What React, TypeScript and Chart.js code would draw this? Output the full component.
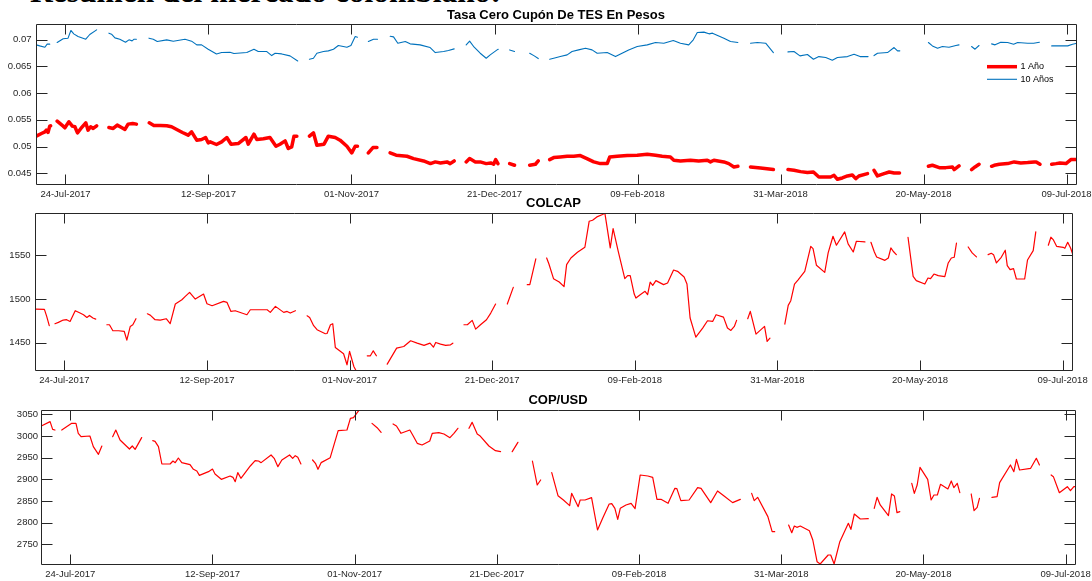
import React, { useEffect, useRef } from "react";
import { Chart, registerables } from "chart.js";
Chart.register(...registerables);

// x values are day offsets from 24-Jul-2017
const xTickDays = [0, 50, 100, 150, 200, 250, 300, 350];
const xTickLabels = ["24-Jul-2017", "12-Sep-2017", "01-Nov-2017", "21-Dec-2017", "09-Feb-2018", "31-Mar-2018", "20-May-2018", "09-Jul-2018"];
const xMin = -10.3;
const xMax = 353.3;

const tesTicks = [0.045, 0.05, 0.055, 0.06, 0.065, 0.07];
const colcapTicks = [1450, 1500, 1550];
const copTicks = [2750, 2800, 2850, 2900, 2950, 3000, 3050];

// TES 10 años
const tes10Days = [-10.2, -9.0, -7.2, -6.4, -5.5, -4.2, -2.9, -0.8, 0.9, 1.9, 2.9, 4.4, 7.1, 8.5, 10.9, 13, 15.2, 16.1, 17.3, 19.0, 21.0, 22.2, 23.3, 24.0, 24.8, 27, 29.2, 30.7, 32.1, 35.4, 37.7, 41.8, 44.1, 45.9, 47.6, 49.9, 52.8, 54.6, 57.5, 58.9, 63.4, 65.9, 67.4, 70.4, 72.1, 73.3, 75.6, 78.5, 81.2, 83, 85.3, 86.7, 87.9, 90.2, 91.9, 93.7, 95.4, 98.4, 99.8, 101.3, 102.1, 104, 105.9, 107.7, 109.1, 111, 113.5, 114.7, 116.2, 118.8, 120.5, 124.0, 127.5, 129.3, 132.2, 133.9, 135.9, 138, 140.1, 141.3, 142.9, 145.0, 147.1, 148.5, 150.9, 151.3, 153, 155.3, 157.0, 160, 162.3, 163.9, 165.3, 167, 169.3, 170.7, 173.0, 175.4, 177.1, 179.4, 181.8, 184.1, 185.9, 189.4, 192.3, 194.6, 196.9, 199.9, 203.4, 206.3, 209.2, 212.5, 215.0, 217.9, 219.5, 220.9, 223.2, 225.0, 226.2, 230.2, 232.5, 235.1, 237, 239.5, 241.9, 244.8, 247.5, 250, 252.6, 254.7, 256.8, 259.4, 261.5, 263.4, 265.8, 268.1, 269.9, 273.4, 275.7, 277.8, 280.6, 281.6, 282.7, 283.9, 287.4, 289.7, 290.9, 291.7, 296, 301.7, 303.1, 304.9, 306.6, 308.9, 311.3, 312.4, 314.5, 316.8, 318.0, 319.4, 321.5, 323.8, 325.0, 327.0, 329.4, 331.5, 332.9, 336.4, 338.5, 340.5, 342.5, 344.8, 348.1, 350.4, 352.1, 353.3];
const tes10Vals = [0.0690, 0.06881, 0.06856, 0.06913, 0.06913, null, 0.06944, 0.07013, 0.07025, 0.07169, 0.07106, 0.07056, 0.07006, 0.07094, 0.07181, null, 0.07119, 0.07100, 0.07031, 0.07006, 0.0695, 0.06994, 0.06975, 0.07006, 0.07006, null, 0.07025, 0.07006, 0.06963, 0.06994, 0.06969, 0.07006, 0.06969, 0.069, 0.069, 0.06819, 0.06731, 0.06756, 0.06763, 0.06738, 0.06756, 0.06819, 0.06775, 0.06775, 0.067, 0.06744, 0.06731, 0.06694, 0.066, null, 0.06631, 0.0665, 0.06744, 0.06775, 0.06788, 0.06819, 0.06888, 0.06856, 0.06888, 0.07056, 0.07044, null, 0.06963, 0.07006, 0.07006, null, 0.0706, 0.0705, 0.0693, 0.06963, 0.06919, 0.069, 0.0685, 0.06756, 0.06775, 0.06794, 0.06825, null, 0.069, 0.06969, 0.06856, 0.06744, 0.0665, 0.06713, 0.06806, 0.06819, null, 0.06806, 0.06775, null, 0.06744, 0.06694, 0.06644, null, 0.06631, 0.0665, 0.06681, 0.06713, 0.06775, 0.06806, 0.06838, 0.06806, 0.06744, 0.06756, 0.06681, 0.06744, 0.06806, 0.06869, 0.069, 0.06944, 0.06931, 0.06981, 0.06931, 0.069, 0.06994, 0.07131, 0.07138, 0.07106, 0.07119, 0.07025, 0.06963, 0.06944, null, 0.06931, 0.06944, 0.06931, 0.06756, null, 0.06769, 0.06775, 0.06694, 0.06719, 0.06631, 0.06681, 0.06663, 0.06613, 0.06663, 0.06681, 0.06725, 0.06681, 0.06681, null, 0.067, 0.06744, 0.06756, 0.0685, 0.06788, 0.06788, null, 0.06944, 0.06881, 0.06838, 0.06869, 0.06856, 0.06888, 0.069, null, 0.06869, 0.06819, 0.06888, null, 0.06919, 0.069, 0.0695, 0.06944, 0.06913, 0.06944, 0.06931, 0.06931, 0.0695, null, 0.06881, 0.06881, 0.06881, 0.06913, 0.06925];

// TES 1 año
const tes1Days = [-10.2, -8.4, -7.2, -6.7, -6.1, -5.5, -5.2, -4, -2.9, -0.8, -0.2, 1.2, 2.4, 3.3, 4.2, 5.4, 7.1, 7.9, 8.8, 9.7, 10.9, 13, 15.2, 16.7, 18.1, 19.6, 20.8, 21.9, 23.5, 24.8, 27, 29.3, 30.9, 33.2, 35.4, 37.1, 38.9, 40.9, 42.9, 44.1, 45.9, 47.6, 49.0, 49.9, 50.6, 52.8, 54.6, 56.4, 57.9, 60.4, 63.1, 63.9, 65.9, 66.9, 69.2, 71.5, 73.6, 75.0, 76.8, 77.9, 79.1, 79.9, 80.9, 83, 85.3, 86.7, 87.9, 90.4, 91.9, 94.3, 96.0, 98.4, 100.1, 101.3, 102.1, 104, 105.9, 107.5, 108.9, 111, 113.5, 115.6, 119.4, 121.7, 125.2, 127.6, 129.3, 131.1, 133.4, 134.5, 135.9, 138, 140.1, 141.3, 143.3, 145.0, 147.1, 148.7, 149.7, 150.4, 151.2, 153, 155.3, 157.0, 160, 162.3, 164.3, 165.3, 167, 169.3, 170.7, 173.0, 175.4, 177.7, 180.0, 182.3, 184.7, 187.0, 189.4, 190.3, 192.9, 196.4, 199.9, 203.4, 206.3, 208.6, 211.5, 212.7, 215.0, 218.5, 221.4, 224.4, 225.5, 226.7, 230.2, 231.9, 233.7, 235.1, 237, 239.5, 243.0, 247.5, 250, 252.6, 254.7, 257.0, 259.4, 261.5, 263.4, 265.8, 267.5, 268.7, 269.9, 271.6, 273.4, 275.1, 276.3, 277.4, 280.4, 281.6, 282.7, 283.9, 286.2, 288.0, 289.7, 291.6, 296, 301.7, 303.1, 305.5, 307.8, 310.1, 310.7, 312.4, 314.5, 316.8, 318.0, 319.4, 321.5, 323.8, 324.7, 326.5, 329.4, 331.7, 334.0, 336.4, 338.7, 339.4, 340.7, 342.5, 344.8, 346.3, 347.7, 349.8, 351.5, 353.3];
const tes1Vals = [0.05194, 0.05244, 0.05275, 0.05306, 0.05263, 0.05381, 0.05388, null, 0.05475, 0.05381, 0.0535, 0.05463, 0.05381, 0.05369, 0.05256, 0.05338, 0.05444, 0.05306, 0.05369, 0.05338, 0.05388, null, 0.05356, 0.05338, 0.054, 0.05356, 0.05319, 0.05419, 0.05431, 0.05419, null, 0.05444, 0.05394, 0.05394, 0.05388, 0.05369, 0.05319, 0.05263, 0.05213, 0.05275, 0.05119, 0.05131, 0.05169, 0.05069, 0.05088, 0.05038, 0.05088, 0.05169, 0.05044, 0.05056, 0.05169, 0.05044, 0.05231, 0.05131, 0.05144, 0.05169, 0.05006, 0.05044, 0.05106, 0.04963, 0.04994, 0.05194, 0.05194, null, 0.05194, 0.05256, 0.05025, 0.05044, 0.05194, 0.05169, 0.05119, 0.05006, 0.04881, 0.05006, 0.05006, null, 0.04881, 0.04981, 0.04981, null, 0.04881, 0.04838, 0.04819, 0.04775, 0.04731, 0.04681, 0.04713, 0.04694, 0.04713, 0.04681, 0.04731, null, 0.04713, 0.04775, 0.04713, 0.04713, 0.04681, 0.04694, 0.04669, 0.04756, 0.04681, null, 0.04681, 0.0465, null, 0.0465, 0.04669, 0.04731, null, 0.04756, 0.04794, 0.04806, 0.04819, 0.04819, 0.04831, 0.04775, 0.04713, 0.04681, 0.04681, 0.04806, 0.04819, 0.04831, 0.04838, 0.04856, 0.04838, 0.04819, 0.04806, 0.04744, 0.04731, 0.04744, 0.04731, 0.04744, 0.04713, 0.04744, 0.04713, 0.04681, 0.04619, 0.04631, null, 0.04619, 0.046, 0.04569, null, 0.04569, 0.04556, 0.04531, 0.04513, 0.04525, 0.04431, 0.04431, 0.04431, 0.04463, 0.04388, 0.04413, 0.0445, 0.04469, 0.044, 0.0445, 0.04494, null, 0.04556, 0.0445, 0.04494, 0.04525, 0.04506, 0.04506, null, 0.04631, 0.0465, 0.04606, 0.04606, 0.04619, 0.04569, 0.04638, null, 0.04569, 0.04619, 0.04669, null, 0.04631, 0.0465, 0.04669, 0.04681, 0.04713, 0.04694, 0.047, 0.04713, 0.04713, 0.04669, null, 0.04669, 0.04681, 0.04694, 0.04681, 0.04756, 0.04756];

// COLCAP
const colcapDays = [-10.0, -7.0, -6.2, -5.3, -4.3, -3.3, -2.1, -0.4, 0.8, 2.0, 3.8, 5.5, 6.7, 7.9, 8.8, 10.0, 11.0, 13, 14.9, 15.8, 17.0, 19.0, 21.0, 21.9, 23.1, 24.0, 25.1, 27, 29.1, 30.1, 31.8, 33.6, 35.7, 37.1, 38.9, 41.2, 42.4, 43.9, 45.9, 48.8, 50.0, 51.8, 55.8, 57.0, 58.4, 59.9, 64.0, 65.2, 67.5, 71.1, 72.2, 74.0, 76.9, 78.1, 79.2, 81.0, 83, 85.1, 86.0, 87.4, 88.6, 91.5, 92.1, 93.3, 94.1, 95.0, 97.9, 99.1, 100.0, 101.5, 102.4, 104, 106.2, 107.3, 108.3, 109.4, 111, 113.2, 116.5, 119.0, 121.4, 123.7, 126.1, 128.2, 129.4, 130.2, 131.9, 133.7, 135.4, 136.2, 138, 140.1, 141.3, 143.0, 144.2, 145.9, 148.0, 149.5, 151.2, 153, 155.3, 157.4, 160, 162.3, 163.2, 165.3, 167, 169.1, 169.9, 171.5, 173.5, 175.2, 176.1, 177.6, 179.9, 182.5, 184.0, 185.2, 186.7, 188.7, 189.5, 191.4, 192.4, 194.2, 196.5, 197.5, 198.4, 199.8, 200.4, 201.9, 203.6, 204.5, 205.4, 206.3, 207.4, 210.1, 211.5, 213.6, 215.0, 217.3, 218.3, 219.4, 221.4, 223.8, 225.5, 227.3, 228.5, 231.1, 232.5, 233.7, 234.9, 235.7, 237.5, 239.6, 240.5, 242.5, 245.5, 246.4, 247.4, 250, 252.6, 253.8, 254.7, 256.0, 257.2, 259.6, 261.7, 262.5, 263.7, 266.6, 267.8, 269.5, 270.7, 273.6, 274.8, 276.6, 277.7, 280.7, 281.8, 282.8, 284.0, 284.8, 287.7, 288.9, 289.8, 290.6, 291.7, 294, 295.8, 297.6, 298.7, 301.7, 302.8, 303.7, 304.9, 306.4, 308.7, 309.9, 311.0, 312.0, 312.8, 315, 316.9, 318.3, 319.8, 322, 323.9, 325.0, 325.8, 326.8, 328.5, 329.9, 330.6, 331.6, 332.8, 333.8, 336.7, 337.7, 339.7, 340.6, 343, 345.0, 345.9, 346.7, 347.9, 350.2, 350.8, 351.8, 352.8, 353.8];
const colcapVals = [1488.5, 1488.1, 1480.1, 1469.4, null, 1471.7, 1473.2, 1475.9, 1476.3, 1474.3, 1486.6, 1483.9, 1482, 1478.9, 1481.2, 1478.2, 1477, null, 1470.5, 1470.5, 1463.6, 1463.6, 1462.8, 1452.9, 1468.6, 1470.5, 1477.4, null, 1483.1, 1481.6, 1476.3, 1475.9, 1477.4, 1471.7, 1494.3, 1499.2, 1503.1, 1507.7, 1500, 1505.7, 1494.6, 1492.3, 1497.3, 1496.2, 1485.8, 1486.6, 1482, 1487.7, 1487.7, 1487.7, 1484.7, 1491.6, 1484.7, 1485.8, 1483.9, 1486.6, null, 1480.8, 1478.9, 1469.4, 1464.8, 1460.2, 1460.5, 1470.5, 1471.7, 1444.5, 1437.2, 1424.6, 1439.9, 1422.6, 1417.0, null, 1434.9, 1434.9, 1440.6, 1434.9, null, 1425.3, 1443.7, 1445.6, 1452.1, 1449.4, 1446.8, 1449.4, 1444.8, 1450.2, 1448.3, 1446.8, 1447.5, 1449.4, null, 1470.5, 1470.5, 1475.5, 1465.5, 1470.5, 1476.3, 1483.9, 1494.3, null, 1494.3, 1513.4, null, 1516.5, 1516.5, 1546, null, 1547.1, 1540.2, 1523.4, 1519.5, 1514.2, 1539.4, 1547.1, 1553.6, 1559.4, 1589.2, 1590.4, 1594.2, 1596.9, 1598.8, 1558.6, 1580.8, 1554.8, 1523.4, 1526.8, 1526.8, 1505.7, 1501.1, 1505, 1508.8, 1505, 1519.5, 1515.7, 1521.1, 1516.5, 1518.4, 1533.3, 1531.8, 1525.3, 1517.2, 1478.2, 1456.3, 1466.7, 1475.1, 1474.3, 1482, 1479.3, 1466.7, 1464, 1468.6, 1475.5, null, 1477.4, 1485.8, 1459.8, 1468.6, 1451.4, 1455.2, null, 1471.3, 1492.7, 1498.1, 1517.2, 1521.8, 1531.8, 1560.5, 1557.8, 1538.7, 1530.6, 1552.9, 1572, 1561.7, 1577, 1563.2, 1554, 1566.3, 1565.5, null, 1565.1, 1554, 1548.3, 1544.4, 1547.1, 1558.6, 1554.8, 1550.9, null, 1570.9, 1526, 1521.1, 1517.2, 1524.1, 1523.4, 1528.7, 1526.8, 1525.7, 1541.4, 1547.1, 1547.9, 1564.3, null, 1559.7, 1552.9, 1548.3, null, 1550.9, 1552.5, 1550.9, 1541.4, 1547.9, 1556, 1538.3, 1533.7, 1534.9, 1523, 1523, 1544.8, 1555.5, 1577, null, 1561.7, 1570.9, 1568.2, 1560.5, 1559.3, 1558.2, 1565.1, 1558.6, 1549];

// COP/USD
const copDays = [-10.2, -7.1, -6.2, -5.4, -4.2, -3.0, 0.5, 2.0, 2.8, 3.8, 6.9, 8.1, 9.9, 11.1, 13, 14.9, 16.0, 17.5, 20.8, 21.8, 22.8, 25.1, 27, 29.0, 29.8, 31.0, 32.2, 35.1, 36.1, 36.9, 38.0, 39.2, 42.1, 43.3, 44.5, 45.4, 48.6, 50.0, 50.9, 53.1, 56.2, 57.2, 58.0, 58.9, 60.0, 63.3, 65.0, 66.2, 67.1, 70.6, 71.7, 73.0, 74.4, 77.1, 78.2, 79.1, 80.0, 81.1, 83, 85.2, 86.2, 87.1, 88.2, 91.4, 94.2, 97.3, 98.5, 99.6, 101.8, 104, 106.1, 107.9, 109.3, 111, 113.5, 114.7, 116.3, 119.4, 120.6, 122.0, 123.7, 126.4, 127.3, 129.6, 131.4, 133.5, 134.9, 136.3, 138, 140.2, 141.3, 143.1, 144.0, 147.2, 149.5, 151.3, 153, 155.4, 157.4, 160, 162.5, 164.2, 165.4, 167, 169.3, 171.5, 173.4, 175.6, 176.3, 178.6, 179.3, 181.0, 183.3, 185.4, 187.2, 189.5, 190.4, 191.5, 192.5, 193.4, 195.4, 197.2, 198.6, 200.4, 203.1, 204.8, 206.3, 207.7, 210.2, 212.6, 213.3, 214.7, 217.6, 220.6, 221.8, 225.2, 227.6, 229.9, 232.9, 235.6, 237.5, 239.6, 240.5, 241.7, 245.3, 246.8, 247.7, 250, 252.6, 253.7, 254.6, 255.5, 256.7, 259.9, 261.1, 262.6, 263.7, 266.5, 267.4, 268.6, 270.6, 273.6, 274.5, 275.7, 277.8, 280.6, 281.7, 282.7, 283.7, 284.8, 287.7, 288.8, 289.8, 290.7, 291.7, 294, 295.9, 296.8, 297.8, 298.8, 301.5, 302.7, 303.7, 304.9, 306.0, 308.6, 309.8, 310.7, 311.9, 312.8, 315, 316.8, 317.8, 318.9, 319.7, 322, 324.1, 325.9, 326.8, 330.6, 331.8, 332.7, 333.8, 337.7, 339.7, 340.8, 343, 344.9, 345.7, 347.8, 350.6, 351.7, 352.9, 353.3];
const copVals = [3023.1, 3033.1, 3015.4, 3013.8, null, 3013.8, 3029.2, 3029.2, 3006.2, 2998.5, 3000, 2975.4, 2957.7, 2976.9, null, 2998.5, 3013.8, 2990.8, 2970, 2976.9, 2969.2, 2996.2, null, 2989.2, 2987.7, 2975.4, 2935.4, 2935.4, 2942.3, 2938.5, 2949.2, 2938.5, 2933.8, 2923.1, 2919.2, 2909.2, 2917.7, 2923.8, 2912.3, 2900, 2907.7, 2904.6, 2894.6, 2915.4, 2902.3, 2930.8, 2943.1, 2942.3, 2938.5, 2956.2, 2948.5, 2929.2, 2944.6, 2956.2, 2948.5, 2954.6, 2950.8, 2935.4, null, 2944.6, 2936.9, 2923.1, 2938.5, 2950, 3012.3, 3013.8, 3040.8, 3042.3, 3062, null, 3029.2, 3019.2, 3008.5, null, 3027.7, 3023.1, 3006.2, 3013.8, 3000, 2983.1, 2979.2, 2988.5, 3006.2, 3007.7, 3004.6, 2996.2, 3006.2, 3017.7, null, 3017.7, 3031.5, 3004.6, 3000.8, 2976.9, 2966.2, 2963.8, null, 2963.8, 2985.4, null, 2942.3, 2886.9, 2898.5, null, 2915.4, 2862.3, 2852.3, 2839.2, 2867.7, 2836.9, 2852.3, 2852.3, 2857.7, 2783.1, 2810, 2843.1, 2843.8, 2833.1, 2807.7, 2833.1, 2840.8, 2844.6, 2832.3, 2910, 2907.7, 2904.6, 2853.8, 2853.8, 2844.6, 2879.2, 2878.5, 2850.8, 2852.3, 2880.8, 2879.2, 2846.2, 2873.1, 2861.5, 2846.2, 2853.8, null, 2867.7, 2850.8, 2858.5, 2814, 2779.2, 2779.2, null, 2794.6, 2776.9, 2792.3, 2789.2, 2792.3, 2781.5, 2760, 2710, 2704.6, 2725.4, 2725.4, 2704.6, 2756.2, 2798.5, 2784.6, 2820, 2808.5, 2809.2, null, 2833.1, 2858.5, 2840.8, 2816.2, 2866.2, 2861.5, 2823.1, 2825.4, null, 2890.8, 2867.7, 2886.9, 2927.7, 2900, 2852.3, 2863.8, 2863.8, 2888.5, 2877.7, 2896.2, 2880.8, 2890.8, 2869.2, null, 2866.2, 2827.7, 2835.4, 2856.2, null, 2858.5, 2860, 2892.3, 2933.1, 2917.7, 2946.2, 2921.5, 2925.4, 2948.5, 2933.1, null, 2910, 2906.2, 2869.2, 2883.1, 2873.8, 2883.1, 2883.1];

const AXIS = "#262626";
const FONT = '"Liberation Sans", Arial, Helvetica, sans-serif';

type Series = { label: string; days: number[]; vals: (number | null)[]; color: string; width: number };
type PanelCfg = {
  top: number; height: number; l: number; t: number; r: number; b: number;
  title: string; titleY: number; yMin: number; yMax: number; yTicks: number[]; yPad: number;
  series: Series[]; legend?: { x: number; y: number; dy: number };
};

const framePlugin = {
  id: "frame",
  afterDatasetsDraw(chart: any, _args: any, opts: any) {
    const { ctx, chartArea: a } = chart;
    const xs = chart.scales.x;
    const ys = chart.scales.y;
    ctx.save();
    ctx.strokeStyle = AXIS;
    ctx.lineWidth = 1;
    ctx.beginPath();
    const L = Math.round(a.left) + 0.5, R = Math.round(a.right) + 0.5;
    const T = Math.round(a.top) + 0.5, B = Math.round(a.bottom) + 0.5;
    xs.ticks.forEach((t: any) => {
      const px = Math.round(xs.getPixelForValue(t.value)) + 0.5;
      ctx.moveTo(px, B); ctx.lineTo(px, B - 10);
      ctx.moveTo(px, T); ctx.lineTo(px, T + 10);
    });
    ys.ticks.forEach((t: any) => {
      const py = Math.round(ys.getPixelForValue(t.value)) + 0.5;
      ctx.moveTo(L, py); ctx.lineTo(L + 11, py);
      ctx.moveTo(R, py); ctx.lineTo(R - 11, py);
    });
    ctx.rect(L, T, R - L, B - T);
    ctx.stroke();

    ctx.fillStyle = "#000";
    ctx.font = `bold 13px ${FONT}`;
    ctx.textAlign = "center";
    ctx.textBaseline = "middle";
    ctx.fillText(opts.title, (a.left + a.right) / 2, opts.titleY);

    if (opts.legend) {
      const { x, y, dy } = opts.legend;
      ctx.font = `9px ${FONT}`;
      ctx.textAlign = "left";
      chart.data.datasets.forEach((ds: any, i: number) => {
        const yy = y + i * dy;
        ctx.strokeStyle = ds.borderColor;
        ctx.lineWidth = ds.borderWidth;
        ctx.beginPath();
        ctx.moveTo(x, yy); ctx.lineTo(x + 30, yy);
        ctx.stroke();
        ctx.fillStyle = "#000";
        ctx.fillText(ds.label, x + 33.5, yy);
      });
    }
    ctx.restore();
  },
};

function Panel({ cfg }: { cfg: PanelCfg }) {
  const ref = useRef<HTMLCanvasElement | null>(null);
  useEffect(() => {
    if (!ref.current) return;
    const c = cfg;
    const chart = new Chart(ref.current, {
      type: "line",
      data: {
        datasets: c.series.map((s) => ({
          label: s.label,
          data: s.days.map((d, i) => ({ x: d, y: s.vals[i] })),
          borderColor: s.color,
          backgroundColor: s.color,
          borderWidth: s.width,
          pointRadius: 0,
          tension: 0,
          spanGaps: false,
          borderJoinStyle: "round",
          borderCapStyle: "round",
        })),
      } as any,
      options: {
        animation: false,
        responsive: false,
        maintainAspectRatio: false,
        devicePixelRatio: 1,
        events: [],
        layout: { padding: { left: 0, top: c.t - c.top, right: 1092 - c.r, bottom: 0 } },
        plugins: {
          legend: { display: false },
          tooltip: { enabled: false },
          title: { display: false },
          frame: { title: c.title, titleY: c.titleY - c.top, legend: c.legend ? { ...c.legend, y: c.legend.y - c.top } : null },
        } as any,
        scales: {
          x: {
            type: "linear",
            min: xMin,
            max: xMax,
            grid: { display: false, drawTicks: false },
            border: { display: false },
            afterBuildTicks: (s: any) => { s.ticks = xTickDays.map((v) => ({ value: v })); },
            afterFit: (s: any) => { s.height = c.height - (c.b - c.top); s.paddingLeft = 0; s.paddingRight = 0; },
            ticks: {
              autoSkip: false, maxRotation: 0, minRotation: 0, padding: 5, color: AXIS,
              font: { family: FONT, size: 9.5 },
              callback: (v: any) => { const i = xTickDays.indexOf(Number(v)); return i >= 0 ? xTickLabels[i] : ""; },
            },
          },
          y: {
            type: "linear",
            min: c.yMin,
            max: c.yMax,
            grid: { display: false, drawTicks: false },
            border: { display: false },
            afterBuildTicks: (s: any) => { s.ticks = c.yTicks.map((v) => ({ value: v })); },
            afterFit: (s: any) => { s.width = c.l; s.paddingTop = 0; s.paddingBottom = 0; },
            ticks: {
              padding: c.yPad, color: AXIS,
              font: { family: FONT, size: 9.5 },
              callback: (v: any) => String(v),
            },
          },
        } as any,
      },
      plugins: [framePlugin as any],
    });
    return () => chart.destroy();
  }, [cfg]);
  return (
    <canvas
      ref={ref}
      width={1092}
      height={cfg.height}
      style={{ position: "absolute", left: 0, top: cfg.top, width: 1092, height: cfg.height }}
    />
  );
}

const panels: PanelCfg[] = [
  {
    top: 0, height: 205, l: 36, t: 24, r: 1076, b: 184,
    title: "Tasa Cero Cupón De TES En Pesos", titleY: 15,
    yMin: 0.043, yMax: 0.0729, yTicks: tesTicks, yPad: 4.5,
    series: [
      { label: "1 Año", days: tes1Days, vals: tes1Vals, color: "#ff0000", width: 3.5 },
      { label: "10 Años", days: tes10Days, vals: tes10Vals, color: "#0072BD", width: 1.1 },
    ],
    legend: { x: 987, y: 66.7, dy: 12.6 },
  },
  {
    top: 190, height: 200, l: 35, t: 213, r: 1072, b: 370,
    title: "COLCAP", titleY: 203.5,
    yMin: 1418.6, yMax: 1598.7, yTicks: colcapTicks, yPad: 4.5,
    series: [{ label: "COLCAP", days: colcapDays, vals: colcapVals, color: "#ff0000", width: 1.2 }],
  },
  {
    top: 385, height: 196, l: 41, t: 410, r: 1075, b: 564,
    title: "COP/USD", titleY: 400.5,
    yMin: 2704.6, yMax: 3060, yTicks: copTicks, yPad: 3,
    series: [{ label: "COP/USD", days: copDays, vals: copVals, color: "#ff0000", width: 1.2 }],
  },
];

export default function App() {
  return (
    <div style={{ position: "absolute", left: 0, top: 0, width: 1092, height: 581, overflow: "hidden", background: "#fff" }}>
      <div
        style={{
          position: "absolute", left: 30, top: -23.7, whiteSpace: "nowrap",
          font: 'bold 31.5px "Liberation Serif", "Times New Roman", serif', lineHeight: "31.5px", color: "#000",
        }}
      >
        Resumen del mercado colombiano:
      </div>
      {panels.map((p, i) => (
        <Panel key={i} cfg={p} />
      ))}
    </div>
  );
}
